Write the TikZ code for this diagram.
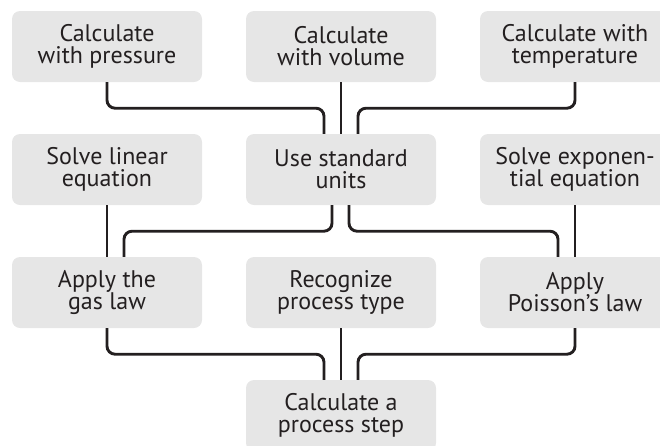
\documentclass[tikz,border=0pt]{standalone}
\usepackage{fontspec}
\setmainfont{PT Sans}
\definecolor{ink}{HTML}{231F20}
\definecolor{boxgray}{HTML}{E6E6E6}
\begin{document}
\begin{tikzpicture}[x=1pt,y=-1pt,
  box/.style={fill=boxgray, rounded corners=8pt, minimum width=190pt, minimum height=71pt,
    inner sep=0pt, align=center, font=\fontsize{24}{22}\selectfont, text=ink},
  link/.style={draw=ink, line width=2.9pt, rounded corners=8pt}]
\useasboundingbox (0,0) rectangle (660,445);
% row 1
\node[box] (p) at (107,46.5) {Calculate\\with pressure};
\node[box] (v) at (341,46.5) {Calculate\\with volume};
\node[box] (t) at (575,46.5) {Calculate with\\temperature};
% row 2
\node[box] (l) at (107,169.5) {Solve linear\\equation};
\node[box] (u) at (341,169.5) {Use standard\\units};
\node[box] (e) at (575,169.5) {Solve exponen-\\tial equation};
% row 3
\node[box] (g) at (107,292.5) {Apply the\\gas law};
\node[box] (r) at (341,292.5) {Recognize\\process type};
\node[box] (a) at (575,292.5) {Apply\\Poisson’s law};
% row 4
\node[box] (c) at (341,415.5) {Calculate a\\process step};
% connectors
\draw[link] (p.south) -- ++(0,26) -| ([xshift=-17pt]u.north);
\draw[link] (v.south) -- (u.north);
\draw[link] (t.south) -- ++(0,26) -| ([xshift=17pt]u.north);
\draw[link] (l.south) -- (g.north);
\draw[link] ([xshift=-9pt]u.south) -- ++(0,26) -| ([xshift=17pt]g.north);
\draw[link] ([xshift=8pt]u.south) -- ++(0,26) -| ([xshift=-17pt]a.north);
\draw[link] (e.south) -- (a.north);
\draw[link] (g.south) -- ++(0,26) -| ([xshift=-17pt]c.north);
\draw[link] (r.south) -- (c.north);
\draw[link] (a.south) -- ++(0,26) -| ([xshift=17pt]c.north);
\end{tikzpicture}
\end{document}
